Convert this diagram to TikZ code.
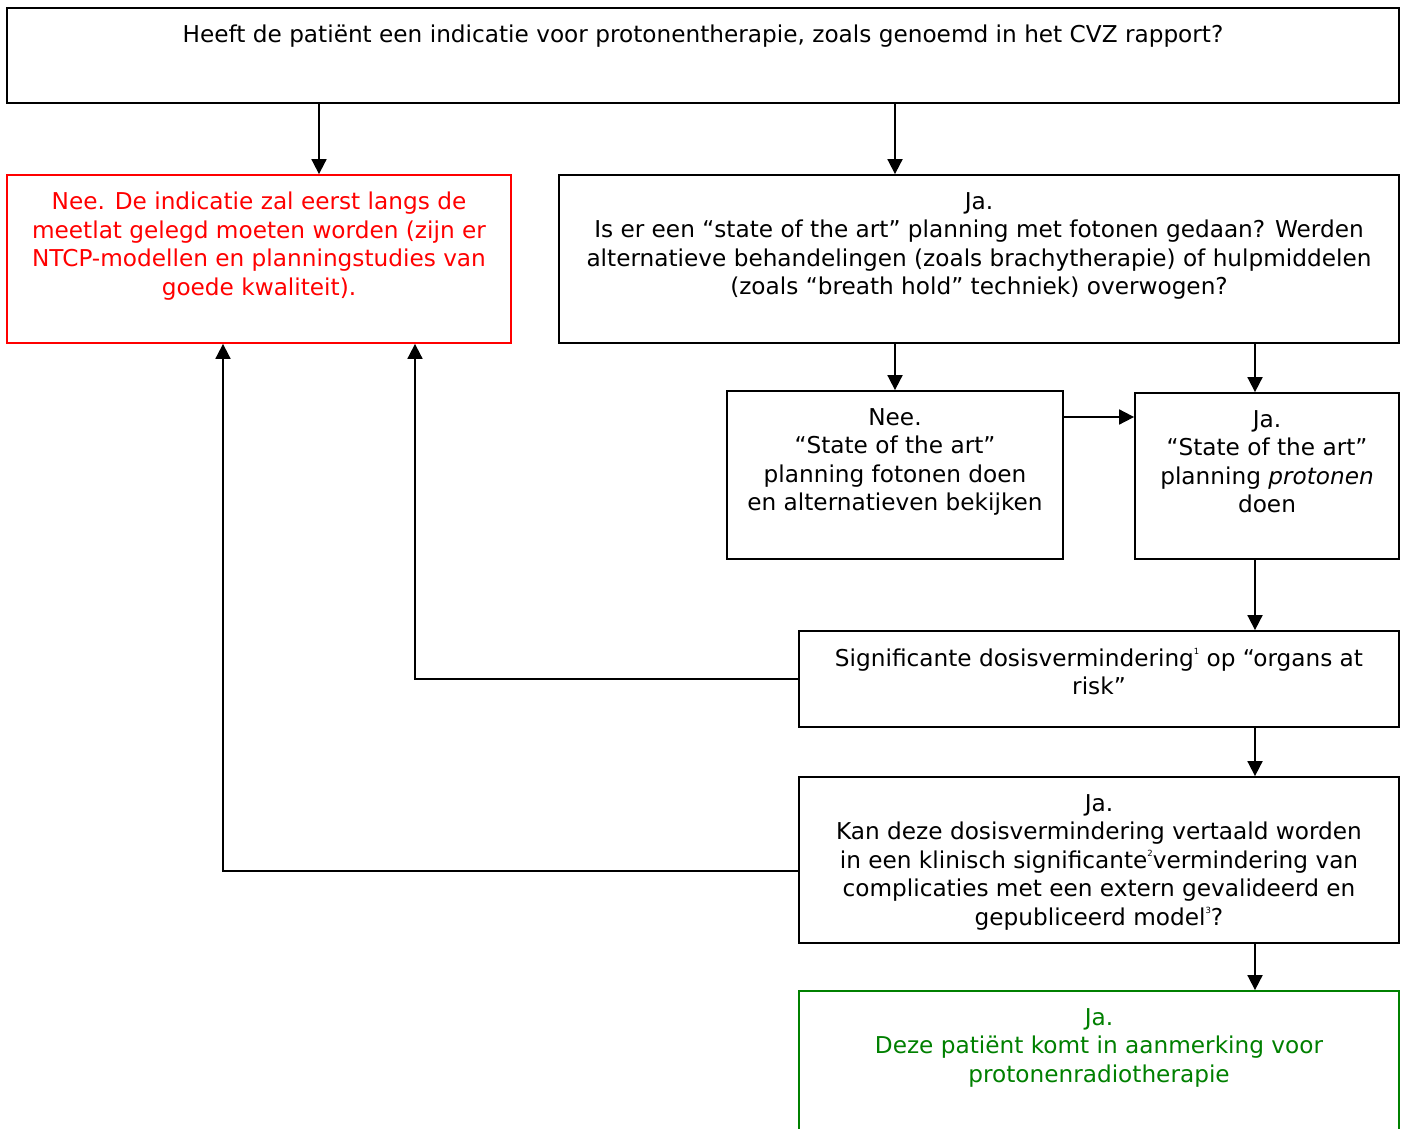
\documentclass[tikz,border=0pt]{standalone}
\usepackage{fontspec}
\setmainfont{DejaVu Sans}
\usetikzlibrary{arrows.meta}
\definecolor{redc}{RGB}{255,0,0}
\definecolor{greenc}{RGB}{0,128,0}
\newcommand{\supnum}[1]{\raisebox{0.5em}{\fontsize{8.5}{8.5}\selectfont #1}}
\newcommand{\fs}{\rule{0pt}{17pt}}
\begin{document}
\begin{tikzpicture}[x=1pt,y=-1pt,
  box/.style={draw, line width=1.8pt, rectangle, inner sep=0pt},
  txt/.style={anchor=north, align=center, inner sep=0pt, font=\fontsize{23.2}{28.5}\selectfont},
  conn/.style={line width=1.8pt, -{Triangle[length=15pt,width=15pt]}}]
\clip (0,0) rectangle (1408,1129);
\fill[white] (0,0) rectangle (1408,1129);
% boxes
\node[box, minimum width=1392pt, minimum height=95pt] (top) at (703,55.5) {};
\node[txt] (toptxt) at (703,25) {\fs Heeft de patiënt een indicatie voor protonentherapie, zoals genoemd in het CVZ rapport?};

\node[box, draw=redc, minimum width=504pt, minimum height=168pt] (nee) at (259,259) {};
\node[txt, text=redc] (neetxt) at (259,192) {\fs Nee. De indicatie zal eerst langs de\\meetlat gelegd moeten worden (zijn er\\NTCP-modellen en planningstudies van\\goede kwaliteit).};

\node[box, minimum width=840pt, minimum height=168pt] (ja) at (979,259) {};
\node[txt] (jatxt) at (979,192) {\fs Ja.\\Is er een “state of the art” planning met fotonen gedaan? Werden\\alternatieve behandelingen (zoals brachytherapie) of hulpmiddelen\\(zoals “breath hold” techniek) overwogen?};

\node[box, minimum width=336pt, minimum height=168pt] (nee2) at (895,475) {};
\node[txt] (nee2txt) at (895,408) {\fs Nee.\\“State of the art”\\planning fotonen doen\\en alternatieven bekijken};

\node[box, minimum width=264pt, minimum height=166pt] (ja2) at (1267,476) {};
\node[txt] (ja2txt) at (1267,410) {\fs Ja.\\“State of the art”\\planning \textit{protonen}\\doen};

\node[box, minimum width=600pt, minimum height=96pt] (sig) at (1099,679) {};
\node[txt] (sigtxt) at (1099,648) {\fs Significante dosisvermindering\supnum{1} op “organs at\\risk”};

\node[box, minimum width=600pt, minimum height=166pt] (kan) at (1099,860) {};
\node[txt] (kantxt) at (1099,794) {\fs Ja.\\Kan deze dosisvermindering vertaald worden\\in een klinisch significante\supnum{2}vermindering van\\complicaties met een extern gevalideerd en\\gepubliceerd model\supnum{3}?};

\node[box, draw=greenc, minimum width=600pt, minimum height=168pt] (yes) at (1099,1075) {};
\node[txt, text=greenc] (yestxt) at (1099,1008) {\fs Ja.\\Deze patiënt komt in aanmerking voor\\protonenradiotherapie};

% connectors
\draw[conn] (top.south -| 319,0) -- (nee.north -| 319,0);
\draw[conn] (top.south -| 895,0) -- (ja.north -| 895,0);
\draw[conn] (ja.south -| nee2.north) -- (nee2.north);
\draw[conn] (ja.south -| 1255,0) -- (ja2.north -| 1255,0);
\draw[conn] (nee2.east |- 0,417) -- (ja2.west |- 0,417);
\draw[conn] (ja2.south -| 1255,0) -- (sig.north -| 1255,0);
\draw[conn] (sig.west) -- (415,679) -- (nee.south -| 415,0);
\draw[conn] (sig.south -| 1255,0) -- (kan.north -| 1255,0);
\draw[conn] (kan.west |- 0,871) -- (223,871) -- (nee.south -| 223,0);
\draw[conn] (kan.south -| 1255,0) -- (yes.north -| 1255,0);
\end{tikzpicture}
\end{document}
